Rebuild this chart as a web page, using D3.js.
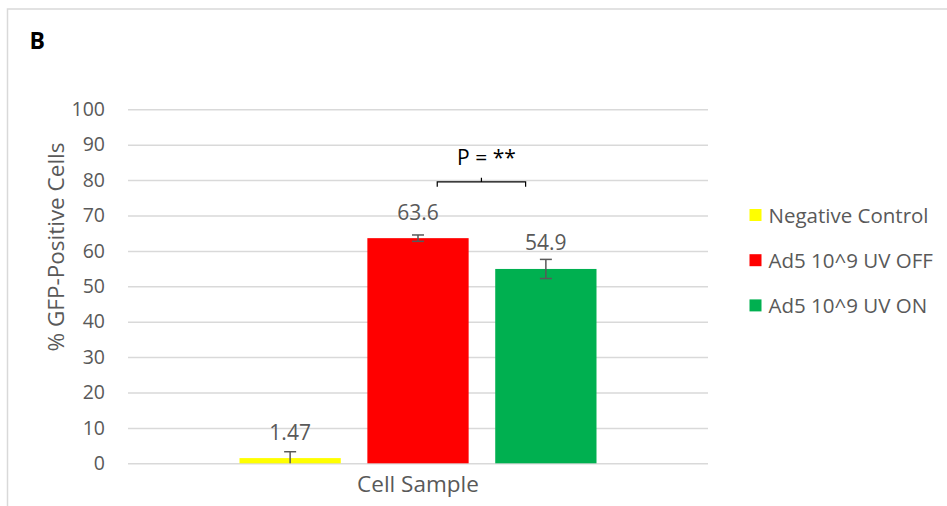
<!DOCTYPE html>
<html>
<head>
<meta charset="utf-8">
<script src="https://cdn.jsdelivr.net/npm/d3@7"></script>
<style>
  html, body { margin: 0; padding: 0; background: #fff; }
  svg { display: block; font-family: "Open Sans", sans-serif; }
</style>
</head>
<body>
<svg id="chart" width="947" height="506"></svg>
<script>
// Series shown in the grouped bar chart
const categories = ["Cell Sample"];
const seriesNames = ["Negative Control", "Ad5 10^9 UV OFF", "Ad5 10^9 UV ON"];
const seriesValues = [1.47, 63.6, 54.9];
const seriesErrors = [1.8, 0.9, 2.7];
const seriesColors = ["#FFFF00", "#FF0000", "#00B050"];
const yTicks = [0, 10, 20, 30, 40, 50, 60, 70, 80, 90, 100];
const significance = { from: 1, to: 2, label: "P = **", level: 79.5 };

const svg = d3.select("#chart");
const textColor = "#595959";

// Panel frame
svg.append("path")
  .attr("d", "M7.5,506 V9 H947")
  .attr("fill", "none")
  .attr("stroke", "#d9d9d9")
  .attr("stroke-width", 1.5);

svg.append("text")
  .attr("x", 29.5).attr("y", 48.5)
  .attr("font-size", 23).attr("font-weight", "bold")
  .attr("fill", "#000")
  .text("B");

const plot = { left: 128, right: 708, top: 109.3, bottom: 463.3 };

const y = d3.scaleLinear().domain([0, 100]).range([plot.bottom, plot.top]);
const x0 = d3.scaleBand().domain(categories).range([plot.left, plot.right]);
const x1 = d3.scaleBand().domain(seriesNames).range([0, x0.bandwidth()]).paddingInner(0.208).paddingOuter(0.872);

// Gridlines + tick labels
const yAxis = d3.axisLeft(y).tickValues(yTicks).tickSize(-(plot.right - plot.left)).tickPadding(23);
const gy = svg.append("g").attr("transform", `translate(${plot.left},0)`).call(yAxis);
gy.select(".domain").remove();
gy.selectAll(".tick line").attr("stroke", "#d9d9d9").attr("stroke-width", 1.5);
gy.selectAll(".tick text").attr("fill", textColor).attr("font-size", 19.5).attr("font-family", "'Open Sans', sans-serif");

// Bars
const group = svg.append("g").attr("transform", `translate(${x0(categories[0])},0)`);
const rows = seriesNames.map((n, i) => ({ name: n, value: seriesValues[i], err: seriesErrors[i], color: seriesColors[i] }));

group.selectAll("rect.bar").data(rows).join("rect")
  .attr("class", "bar")
  .attr("x", d => x1(d.name))
  .attr("y", d => y(d.value))
  .attr("width", x1.bandwidth())
  .attr("height", d => y(0) - y(d.value))
  .attr("fill", d => d.color);

// Error bars (clipped at the baseline)
const eb = group.selectAll("g.err").data(rows).join("g").attr("class", "err")
  .attr("transform", d => `translate(${x1(d.name) + x1.bandwidth() / 2},0)`);
eb.append("line")
  .attr("y1", d => y(d.value + d.err))
  .attr("y2", d => y(Math.max(0, d.value - d.err)))
  .attr("stroke", textColor).attr("stroke-width", 1.5);
eb.append("line")
  .attr("x1", -6).attr("x2", 6)
  .attr("y1", d => y(d.value + d.err)).attr("y2", d => y(d.value + d.err))
  .attr("stroke", textColor).attr("stroke-width", 1.5);
eb.filter(d => d.value - d.err > 0).append("line")
  .attr("x1", -6).attr("x2", 6)
  .attr("y1", d => y(d.value - d.err)).attr("y2", d => y(d.value - d.err))
  .attr("stroke", textColor).attr("stroke-width", 1.5);

// Value labels
group.selectAll("text.val").data(rows).join("text")
  .attr("class", "val")
  .attr("x", d => x1(d.name) + x1.bandwidth() / 2)
  .attr("y", d => y(d.value) - 18.5)
  .attr("text-anchor", "middle")
  .attr("fill", textColor)
  .attr("font-size", 21)
  .text(d => d.value);

// Significance bracket
const bx1 = x0(categories[0]) + x1(seriesNames[significance.from]) + x1.bandwidth() * 0.69;
const bx2 = x0(categories[0]) + x1(seriesNames[significance.to]) + x1.bandwidth() * 0.30;
const by = y(significance.level);
const bmid = (bx1 + bx2) / 2;
svg.append("path")
  .attr("d", `M${bx1},${by + 5} V${by} H${bx2} V${by + 5} M${bmid},${by} V${by - 4}`)
  .attr("fill", "none").attr("stroke", "#000").attr("stroke-width", 1.2);
svg.append("text")
  .attr("x", bmid + 5).attr("y", by - 16.5)
  .attr("text-anchor", "middle")
  .attr("fill", "#000").attr("font-size", 21)
  .text(significance.label);

// Axis titles
svg.append("text")
  .attr("x", (plot.left + plot.right) / 2).attr("y", 491.5)
  .attr("text-anchor", "middle").attr("fill", textColor).attr("font-size", 22.5)
  .text(categories[0]);
svg.append("text")
  .attr("transform", `translate(64,247) rotate(-90)`)
  .attr("text-anchor", "middle").attr("fill", textColor).attr("font-size", 22.5)
  .text("% GFP-Positive Cells");

// Legend
const legend = svg.append("g").attr("transform", "translate(749.5,215)");
const li = legend.selectAll("g").data(rows).join("g").attr("transform", (d, i) => `translate(0,${i * 45.2})`);
li.append("rect").attr("x", 0).attr("y", -6).attr("width", 12).attr("height", 12).attr("fill", d => d.color);
li.append("text").attr("x", 19).attr("y", 7.5).attr("fill", textColor).attr("font-size", 20.5).text(d => d.name);
</script>
</body>
</html>
